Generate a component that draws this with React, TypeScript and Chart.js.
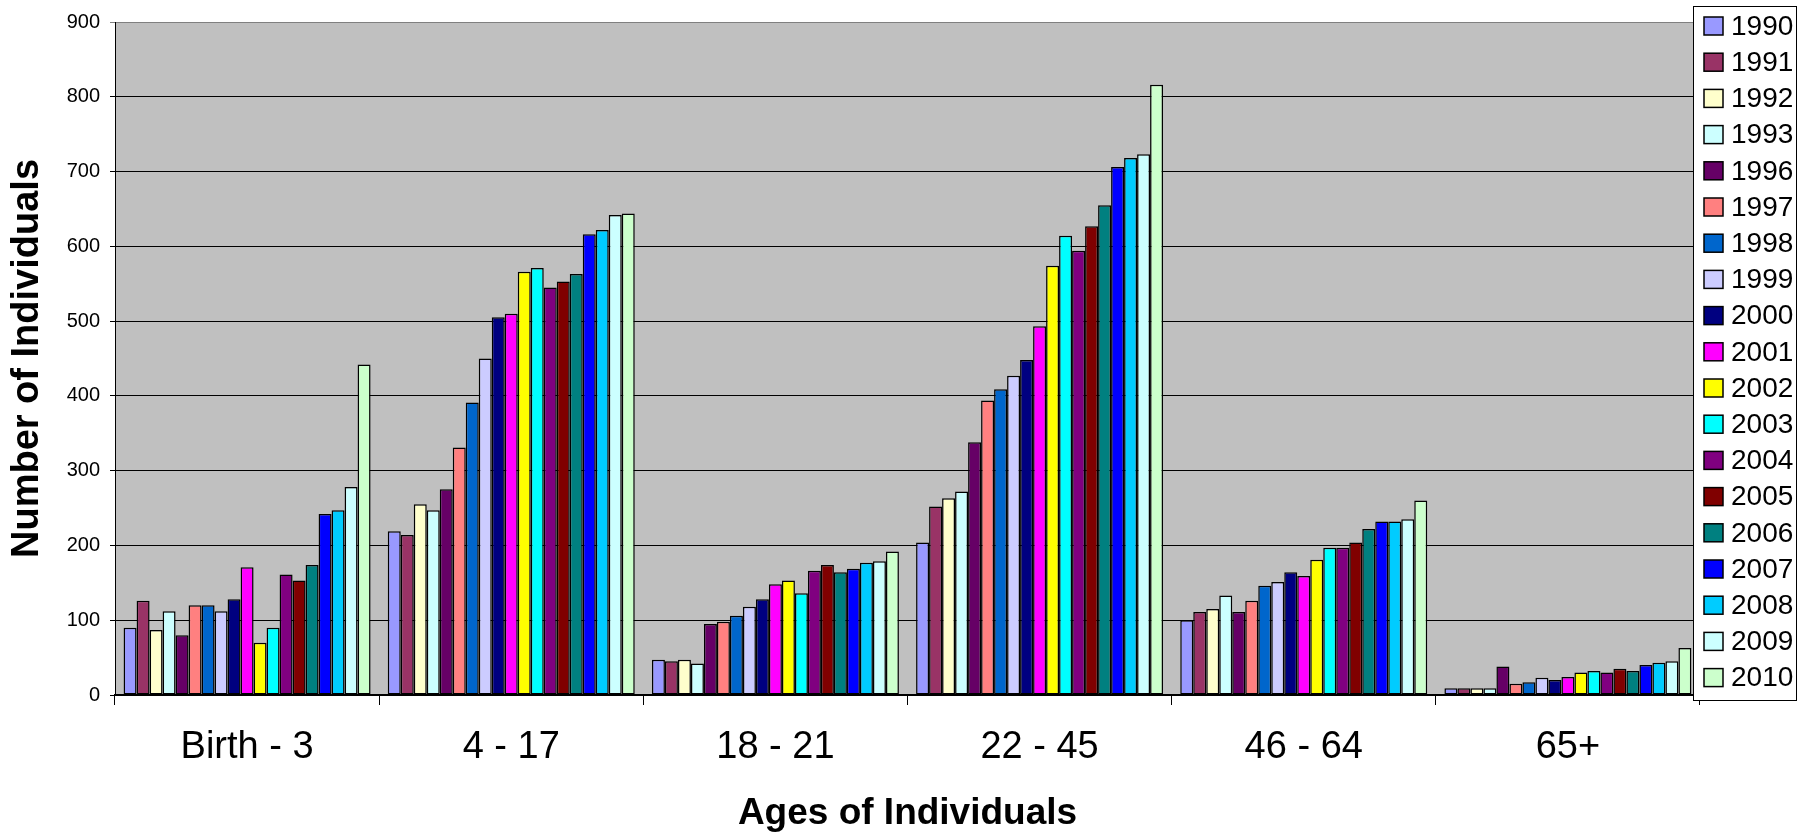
import React, { useEffect, useRef } from "react";
import { Chart, registerables } from "chart.js";

Chart.register(...registerables);

// Age groups on the category axis
const ageGroups = ["Birth - 3", "4 - 17", "18 - 21", "22 - 45", "46 - 64", "65+"];

// Number of individuals per age group, one list per year
const counts1990 = [90, 219, 47, 204, 100, 9];
const counts1991 = [126, 214, 45, 252, 111, 9];
const counts1992 = [87, 255, 47, 263, 115, 9];
const counts1993 = [112, 247, 42, 272, 133, 9];
const counts1996 = [80, 275, 95, 338, 111, 38];
const counts1997 = [120, 331, 98, 394, 126, 15];
const counts1998 = [120, 391, 106, 409, 146, 17];
const counts1999 = [112, 450, 118, 427, 151, 23];
const counts2000 = [128, 505, 128, 448, 164, 20];
const counts2001 = [171, 510, 148, 493, 159, 24];
const counts2002 = [70, 566, 153, 574, 181, 30];
const counts2003 = [90, 571, 136, 614, 197, 32];
const counts2004 = [161, 545, 166, 594, 197, 30];
const counts2005 = [153, 553, 174, 627, 204, 35];
const counts2006 = [174, 563, 164, 655, 222, 32];
const counts2007 = [242, 616, 169, 706, 232, 40];
const counts2008 = [247, 622, 177, 718, 232, 43];
const counts2009 = [278, 642, 179, 723, 235, 45];
const counts2010 = [442, 644, 192, 816, 260, 63];

const years = [
  "1990", "1991", "1992", "1993", "1996", "1997", "1998", "1999", "2000", "2001",
  "2002", "2003", "2004", "2005", "2006", "2007", "2008", "2009", "2010",
];

const yearCounts = [
  counts1990, counts1991, counts1992, counts1993, counts1996, counts1997, counts1998,
  counts1999, counts2000, counts2001, counts2002, counts2003, counts2004, counts2005,
  counts2006, counts2007, counts2008, counts2009, counts2010,
];

const yearColors = [
  "#9999FF", "#993366", "#FFFFCC", "#CCFFFF", "#660066", "#FF8080", "#0066CC",
  "#CCCCFF", "#000080", "#FF00FF", "#FFFF00", "#00FFFF", "#800080", "#800000",
  "#008080", "#0000FF", "#00CCFF", "#CCFFFF", "#CCFFCC",
];

const yTicks = [0, 100, 200, 300, 400, 500, 600, 700, 800, 900];

const FONT = "'Liberation Sans', Arial, Helvetica, sans-serif";

// Grey plot background with a thin grey frame
const plotBackground = {
  id: "plotBackground",
  beforeDraw(chart: any) {
    const { ctx, chartArea } = chart;
    const { left, top, right, bottom } = chartArea;
    ctx.save();
    ctx.fillStyle = "#C0C0C0";
    ctx.fillRect(left, top, right - left, bottom - top);
    ctx.strokeStyle = "#808080";
    ctx.lineWidth = 1;
    ctx.strokeRect(left + 0.5, top + 0.5, right - left - 1, bottom - top - 1);
    ctx.restore();
  },
};

// Boxed single-column legend at the right edge
const boxedLegend = {
  id: "boxedLegend",
  afterDraw(chart: any) {
    const { ctx } = chart;
    const datasets = chart.data.datasets;
    const boxX = 1693;
    const boxY = 6;
    const boxW = 103;
    const boxH = 694;
    const firstY = 26;
    const step = 36.2;
    ctx.save();
    ctx.fillStyle = "#FFFFFF";
    ctx.fillRect(boxX, boxY, boxW, boxH);
    ctx.strokeStyle = "#000000";
    ctx.lineWidth = 1;
    ctx.strokeRect(boxX + 0.5, boxY + 0.5, boxW, boxH);
    ctx.font = `28px ${FONT}`;
    ctx.textBaseline = "middle";
    ctx.textAlign = "left";
    datasets.forEach((ds: any, i: number) => {
      const cy = firstY + i * step;
      ctx.fillStyle = ds.backgroundColor;
      ctx.fillRect(1704, cy - 9, 19, 18);
      ctx.strokeStyle = "#000000";
      ctx.lineWidth = 1.5;
      ctx.strokeRect(1704, cy - 9, 19, 18);
      ctx.fillStyle = "#000000";
      ctx.fillText(ds.label, 1731, cy + 1);
    });
    ctx.restore();
  },
};

export default function App() {
  const canvasRef = useRef<HTMLCanvasElement | null>(null);

  useEffect(() => {
    document.body.style.margin = "0";
    const canvas = canvasRef.current;
    if (!canvas) return;

    const chart = new Chart(canvas, {
      type: "bar",
      data: {
        labels: ageGroups,
        datasets: years.map((year, i) => ({
          label: year,
          data: yearCounts[i],
          backgroundColor: yearColors[i],
          borderColor: "#000000",
          borderWidth: 1.5,
          borderSkipped: false,
          categoryPercentage: 0.935,
          barPercentage: 1.0,
        })),
      },
      options: {
        responsive: false,
        animation: false,
        devicePixelRatio: 1,
        layout: { padding: { top: 17, right: 108, left: 0, bottom: 0 } },
        plugins: {
          legend: { display: false },
          tooltip: { enabled: false },
        },
        scales: {
          x: {
            offset: true,
            grid: {
              offset: true,
              drawOnChartArea: false,
              drawTicks: true,
              tickLength: 10,
              color: "#000000",
              lineWidth: 1,
            },
            border: { display: true, color: "#000000", width: 2 },
            ticks: {
              color: "#000000",
              padding: 20,
              maxRotation: 0,
              autoSkip: false,
              font: { family: FONT, size: 38 },
            },
            title: {
              display: true,
              text: "Ages of Individuals",
              color: "#000000",
              padding: { top: 0, bottom: 0 },
              font: { family: FONT, size: 37, weight: "bold" },
            },
            afterFit(scale: any) {
              scale.height = 141;
            },
          },
          y: {
            min: 0,
            max: 900,
            afterBuildTicks(scale: any) {
              scale.ticks = yTicks.map((v) => ({ value: v }));
            },
            grid: {
              drawTicks: true,
              tickLength: 5,
              color: (c: any) => (c.tick && c.tick.value === 900 ? "#808080" : "#000000"),
              lineWidth: 1,
            },
            border: { display: true, color: "#000000", width: 1 },
            ticks: {
              color: "#000000",
              padding: 10,
              font: { family: FONT, size: 20 },
            },
            title: {
              display: true,
              text: "Number of Individuals",
              color: "#000000",
              padding: { top: 5, bottom: 0 },
              font: { family: FONT, size: 38, weight: "bold" },
            },
            afterFit(scale: any) {
              scale.width = 115;
            },
          },
        },
      },
      plugins: [plotBackground, boxedLegend],
    });

    return () => {
      chart.destroy();
    };
  }, []);

  return (
    <div style={{ width: 1808, height: 836 }}>
      <canvas ref={canvasRef} width={1808} height={836} style={{ display: "block" }} />
    </div>
  );
}
